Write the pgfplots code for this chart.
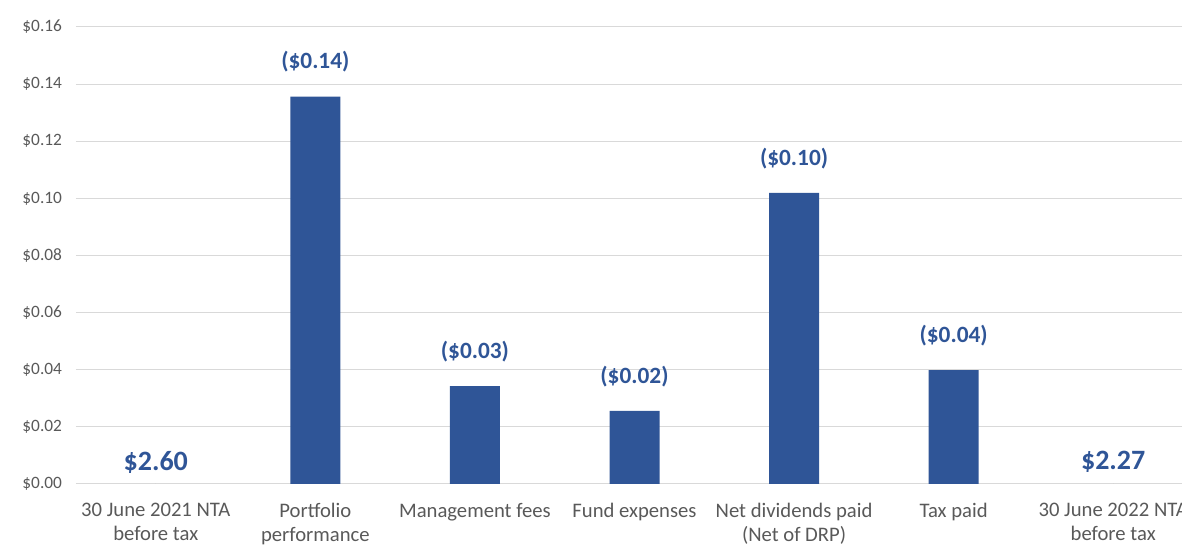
\documentclass[border=0pt]{standalone}
\usepackage{pgfplots}
\pgfplotsset{compat=1.18}
\usepackage{fontspec}
\setmainfont{Carlito}
\definecolor{barblue}{HTML}{2F5597}
\definecolor{ticktext}{HTML}{595959}
\definecolor{gridc}{HTML}{D9D9D9}
\begin{document}
\begin{tikzpicture}
\begin{axis}[
  at={(0,0)}, anchor=south west, scale only axis,
  width=837.75pt, height=342.75pt,
  xmin=-0.5, xmax=6.5, ymin=0, ymax=0.16,
  axis line style={draw=none},
  ytick={0,0.02,0.04,0.06,0.08,0.1,0.12,0.14,0.16},
  ymajorgrids, major grid style={gridc, line width=0.75pt},
  major tick length=0pt,
  xtick={0,1,2,3,4,5,6},
  xticklabels={{30 June 2021 NTA\\before tax},{Portfolio\\performance},{Management fees},{Fund expenses},{Net dividends paid\\(Net of DRP)},{Tax paid},{30 June 2022 NTA\\before tax}},
  xticklabel style={align=center, font=\fontsize{15.5}{17.5}\selectfont, text=ticktext, yshift=-11pt},
  yticklabel style={font=\fontsize{13}{15}\selectfont, text=ticktext, xshift=-7pt},
  yticklabel={\$\pgfmathprintnumber[fixed,fixed zerofill,precision=2,assume math mode=true]{\tick}},
  clip=false,
]
\addplot[ybar, bar width=37.5pt, bar shift=0pt, fill=barblue, draw=none,
  nodes near coords, point meta=explicit symbolic,
  every node near coord/.append style={anchor=center, yshift=26pt, font=\bfseries\fontsize{17.5}{20}\selectfont, text=barblue}]
  coordinates {(1,0.1356) [(\$0.14)] (2,0.0343) [(\$0.03)] (3,0.0256) [(\$0.02)] (4,0.1019) [(\$0.10)] (5,0.0399) [(\$0.04)]};
\addplot[only marks, mark=*, mark size=0pt, draw=none, fill=none,
  nodes near coords, point meta=explicit symbolic,
  every node near coord/.append style={anchor=center, yshift=16.5pt, font=\bfseries\fontsize{21}{25}\selectfont, text=barblue}]
  coordinates {(0,0) [\$2.60] (6,0) [\$2.27]};
\end{axis}
\pgfresetboundingbox
\useasboundingbox (-57pt,-51pt) rectangle (829.5pt,363pt);
\end{tikzpicture}
\end{document}
